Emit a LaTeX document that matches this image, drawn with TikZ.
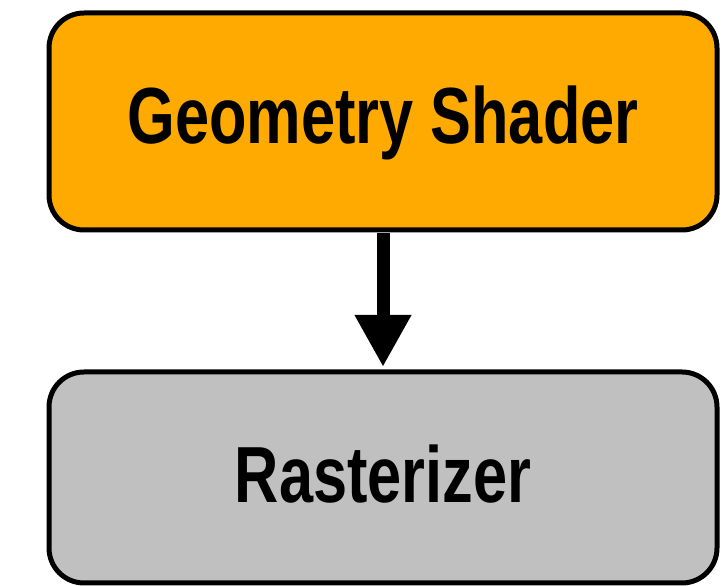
\documentclass[tikz,border=0pt]{standalone}
\usepackage{fontspec}
\setmainfont{Liberation Sans}
\usetikzlibrary{arrows.meta}
\definecolor{shaderorange}{HTML}{FFAA00}
\definecolor{rastergray}{HTML}{C0C0C0}
\newcommand{\stagetext}[1]{\scalebox{0.77}[1]{\fontsize{79.6}{86}\selectfont #1}}
\begin{document}
\begin{tikzpicture}[x=1pt, y=1pt, line join=round, line cap=round,
    stage/.style={draw, line width=5pt, rounded corners=35pt, minimum width=668pt, inner sep=0pt, outer sep=0pt, text depth=0pt, font=\bfseries}]
            \useasboundingbox (0,0) rectangle (723,586);
            \node[stage, fill=shaderorange, minimum height=217pt, text height=45pt] (gs) at (383,464.5)
                {\stagetext{Geometry Shader}};
            \node[stage, fill=rastergray, minimum height=211pt, text height=50pt] (rast) at (383,108.5)
                {\stagetext{Rasterizer}};
            \draw[line width=13pt, line cap=butt, -{Triangle[width=53pt, length=52pt]}] 
            ([yshift=-3.5pt]gs.south) -- ([yshift=5pt]rast.north);
        \end{tikzpicture}
\end{document}
